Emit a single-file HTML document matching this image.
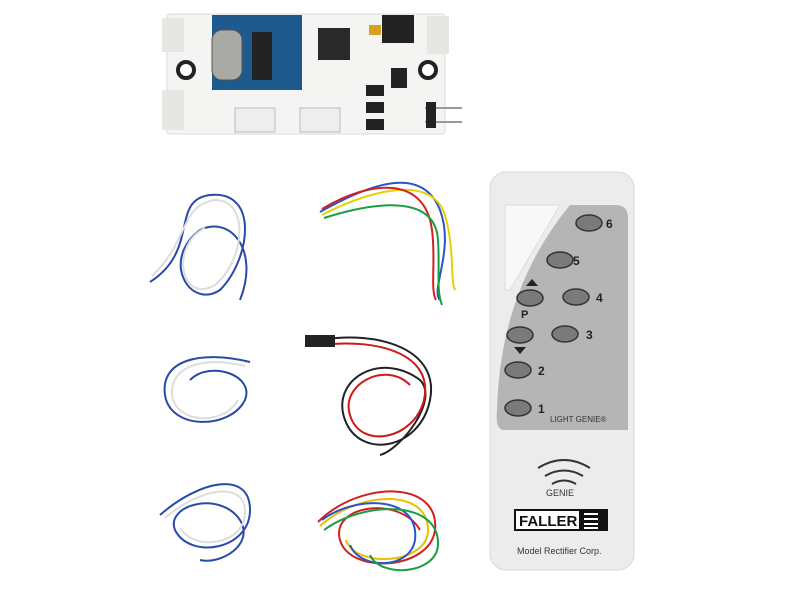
<!DOCTYPE html>
<html><head><style>
body{margin:0;width:800px;height:600px;background:#fff;overflow:hidden;font-family:"Liberation Sans",sans-serif}
</style></head><body>
<svg width="800" height="600" viewBox="0 0 800 600" xmlns="http://www.w3.org/2000/svg">
<!-- PCB -->
<rect x="167" y="14" width="278" height="120" rx="3" fill="#f4f4f2" stroke="#ddd"/>
<rect x="162" y="18" width="22" height="34" fill="#e6e6e2"/><rect x="162" y="90" width="22" height="40" fill="#e6e6e2"/>
<rect x="427" y="16" width="22" height="38" fill="#e6e6e2"/>
<rect x="212" y="15" width="90" height="75" fill="#1e5a8e"/>
<rect x="212" y="30" width="30" height="50" rx="10" fill="#a9a9a6" stroke="#555"/>
<rect x="252" y="32" width="20" height="48" fill="#222"/>
<rect x="318" y="28" width="32" height="32" fill="#2a2a2a"/>
<rect x="382" y="15" width="32" height="28" fill="#222"/>
<rect x="369" y="25" width="12" height="10" fill="#d8a020"/>
<circle cx="186" cy="70" r="8" fill="#fff" stroke="#222" stroke-width="4"/>
<circle cx="428" cy="70" r="8" fill="#fff" stroke="#222" stroke-width="4"/>
<rect x="366" y="85" width="18" height="11" fill="#222"/><rect x="366" y="102" width="18" height="11" fill="#222"/><rect x="366" y="119" width="18" height="11" fill="#222"/>
<rect x="391" y="68" width="16" height="20" fill="#222"/>
<rect x="235" y="108" width="40" height="24" fill="#eee" stroke="#bbb"/>
<rect x="300" y="108" width="40" height="24" fill="#eee" stroke="#bbb"/>
<line x1="425" y1="108" x2="462" y2="108" stroke="#999" stroke-width="2"/>
<line x1="425" y1="122" x2="462" y2="122" stroke="#999" stroke-width="2"/>
<rect x="426" y="102" width="10" height="26" fill="#222"/>
<!-- wires -->
<g fill="none" stroke-width="2">
<path d="M150 282 C200 250 170 200 210 195 C260 190 250 260 220 290 C190 310 160 260 200 230 C230 215 260 250 240 300" stroke="#2a4aa8"/>
<path d="M152 276 C190 240 180 205 215 200 C250 200 245 260 215 285 C180 305 170 245 205 228" stroke="#ddd"/>
<path d="M320 212 C360 190 420 160 440 210 C455 250 430 290 440 300" stroke="#2a55c8"/>
<path d="M322 215 C360 195 430 170 445 215 C455 250 450 280 455 290" stroke="#e8d000"/>
<path d="M322 209 C370 180 425 175 432 230 C436 260 430 290 436 300" stroke="#d02020"/>
<path d="M324 218 C365 205 435 190 438 240 C440 270 436 290 442 305" stroke="#18a040"/>
<path d="M250 362 C200 350 160 360 165 395 C170 430 230 430 245 400 C255 375 210 360 190 380" stroke="#2a4aa8"/>
<path d="M245 366 C205 356 170 365 172 395 C176 425 225 425 238 400" stroke="#ddd"/>
<path d="M320 340 C380 330 440 350 430 400 C420 450 360 460 345 420 C330 380 380 350 420 380 C440 400 400 450 380 455" stroke="#222"/>
<path d="M322 345 C380 338 434 355 424 400 C414 440 360 450 350 415 C340 385 385 360 410 385" stroke="#d01818"/>
<rect x="305" y="335" width="30" height="12" fill="#222" stroke="none"/>
<path d="M160 515 C200 480 250 470 250 510 C250 550 190 560 175 530 C165 505 220 490 240 520 C255 545 220 565 200 560" stroke="#2a4aa8"/>
<path d="M165 518 C200 488 245 480 245 512 C245 545 195 552 180 528" stroke="#ddd"/>
<path d="M318 522 C360 480 440 480 435 530 C430 570 350 575 340 540 C330 505 400 495 420 530" stroke="#d02020"/>
<path d="M320 526 C360 490 430 488 428 532 C425 565 355 568 346 540" stroke="#e8c000"/>
<path d="M322 520 C355 495 420 495 415 540 C410 570 360 570 350 545" stroke="#2a55c8"/>
<path d="M324 530 C365 500 440 500 438 545 C436 575 380 578 370 555" stroke="#18a040"/>
</g>
<!-- remote -->
<rect x="490" y="172" width="144" height="398" rx="16" fill="#ececec" stroke="#d8d8d8"/>
<path d="M505 205 L560 205 L510 290 L505 290 Z" fill="#f8f8f8" stroke="#ddd"/>
<path d="M570 205 L615 205 Q628 205 628 218 L628 430 L504 430 Q495 430 497 410 Q500 290 570 205 Z" fill="#b5b5b5"/>
<g fill="#7a7a7a" stroke="#333" stroke-width="1.5">
<ellipse cx="589" cy="223" rx="13" ry="8"/><ellipse cx="560" cy="260" rx="13" ry="8"/>
<ellipse cx="530" cy="298" rx="13" ry="8"/><ellipse cx="576" cy="297" rx="13" ry="8"/>
<ellipse cx="520" cy="335" rx="13" ry="8"/><ellipse cx="565" cy="334" rx="13" ry="8"/>
<ellipse cx="518" cy="370" rx="13" ry="8"/><ellipse cx="518" cy="408" rx="13" ry="8"/>
</g>
<g font-weight="bold" font-size="12" fill="#222">
<text x="606" y="228">6</text><text x="573" y="265">5</text><text x="596" y="302">4</text>
<text x="586" y="339">3</text><text x="538" y="375">2</text><text x="538" y="413">1</text>
<text x="521" y="318" font-size="11">P</text>
</g>
<path d="M526 286 L538 286 L532 279 Z" fill="#222"/><path d="M514 347 L526 347 L520 354 Z" fill="#222"/>
<text x="550" y="422" font-size="8" fill="#333">LIGHT GENIE®</text>
<g fill="none" stroke="#333" stroke-width="2">
<path d="M538 468 Q564 452 590 468"/><path d="M545 476 Q564 465 583 476"/><path d="M552 484 Q564 477 576 484"/>
</g>
<text x="546" y="496" font-size="9" fill="#333">GENIE</text>
<rect x="514" y="509" width="94" height="22" fill="#111"/>
<rect x="516" y="511" width="63" height="18" fill="#fff"/>
<text x="519" y="526" font-size="15" font-weight="bold" fill="#111">FALLER</text>
<g stroke="#fff" stroke-width="2"><line x1="584" y1="514" x2="598" y2="514"/><line x1="584" y1="519" x2="598" y2="519"/><line x1="584" y1="524" x2="598" y2="524"/><line x1="584" y1="528" x2="598" y2="528"/></g>
<text x="517" y="554" font-size="9" fill="#333">Model Rectifier Corp.</text>
</svg>
</body></html>
